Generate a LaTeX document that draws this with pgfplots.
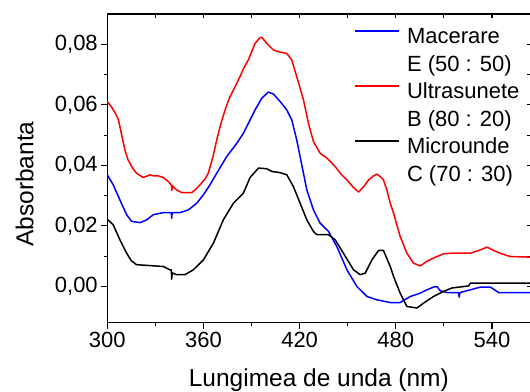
\documentclass[border=0pt]{standalone}
\usepackage{fontspec}
\setmainfont{Liberation Sans}
\usepackage{pgfplots}
\pgfplotsset{compat=1.18}
\definecolor{cblue}{RGB}{0,0,255}
\definecolor{cred}{RGB}{255,0,0}
\begin{document}
\begin{tikzpicture}
\pgfplotsset{
  common/.style={
    scale only axis, width=423.5bp, height=309bp,
    xmin=300, xmax=564, ymin=-0.012, ymax=0.09,
    scaled ticks=false,
    xtick={300,360,420,480,540}, minor x tick num=1,
    ytick={0,0.02,0.04,0.06,0.08}, minor y tick num=1,
    axis line style={line width=1.1bp},
    major tick style={line width=1.1bp, black},
    minor tick style={line width=1.1bp, black},
    major tick length=6bp, minor tick length=3.5bp,
  }
}
% top/right ticks (inside)
\begin{axis}[common,
  axis x line*=top, axis y line*=right, tick align=inside,
  xticklabels={}, yticklabels={},
  major tick length=4bp, minor tick length=4bp]
\end{axis}
\begin{axis}[common,
  axis x line*=bottom, axis y line*=left, tick align=outside,
  /pgf/number format/assume math mode=true,
  yticklabel style={/pgf/number format/use comma, /pgf/number format/fixed,
    /pgf/number format/fixed zerofill, /pgf/number format/precision=2},
  tick label style={font=\fontsize{22bp}{26bp}\selectfont},
  xlabel={Lungimea de unda (nm)}, ylabel={Absorbanta},
  label style={font=\fontsize{24.5bp}{28bp}\selectfont},
  xlabel style={at={(axis description cs:0.5,0)}, anchor=base, yshift=-63.7bp},
  ylabel style={at={(axis description cs:-0.1747,0.449)}, anchor=base},
  legend style={at={(axis description cs:0.5825,1)}, anchor=north west, yshift=-13bp,
    draw=none, fill=none, inner sep=0pt, row sep=6.5bp, column sep=7bp,
    line width=1.5bp,
    font=\fontsize{22bp}{26bp}\selectfont,
    nodes={inner sep=0pt, text height=16bp, text depth=5bp}},
  legend cell align=left,
  legend image code/.code={\draw[#1] (0bp,7bp) -- (44bp,7bp);},
  legend image post style={line width=1.5bp},
  every axis plot/.append style={line width=1.5bp, line join=round},
]
\addplot[cblue, forget plot] coordinates {
(300,0.0369) (303.7,0.0336) (307.9,0.0286) (312.1,0.0237) (315.2,0.0215) (320.4,0.0211)
(324.6,0.022) (328.7,0.0237) (335,0.0244) (340,0.0244) (340.2,0.0225) (340.5,0.0244)
(345.4,0.0244) (350.6,0.0253) (355.8,0.0275) (360,0.0303) (364.1,0.0336) (368.3,0.0374)
(374.5,0.0429) (380.8,0.0473) (384.9,0.0506) (387,0.0528) (389.1,0.055) (392.2,0.0583)
(396.4,0.0622) (400.5,0.0642) (403.6,0.0636) (407.8,0.0611) (412,0.0583) (415.1,0.055)
(418.2,0.0484) (420.7,0.0418) (424.5,0.0319) (428.6,0.0253) (432.8,0.0209) (438,0.0182)
(443.2,0.0132) (449.5,0.0055) (455.7,0.0) (462,-0.0033) (468.2,-0.0044) (476.5,-0.0053)
(482.7,-0.0053) (489,-0.0033) (495.2,-0.0022) (499.4,-0.0011) (503.5,-0.0002) (505.6,0.0)
(507.7,-0.0014) (511.9,-0.002) (519,-0.002) (519.5,-0.0035) (520,-0.002) (526.5,-0.0011)
(532.7,-0.0002) (539,-0.0002) (544.1,-0.002) (564,-0.002)
};
\addplot[cred, forget plot] coordinates {
(300,0.0611) (303,0.059) (305,0.0573) (307,0.055) (309,0.050) (311,0.0451) (313,0.0418)
(316,0.039) (318.3,0.0374) (322.5,0.036) (325,0.0365) (326.7,0.0369) (329,0.0365)
(332,0.0365) (335,0.036) (338,0.0347) (340,0.0335) (340.3,0.0317) (340.6,0.0333)
(343,0.032) (346.5,0.031) (352.7,0.031) (355,0.032) (357.9,0.0336) (361,0.0355)
(363,0.0374) (366,0.043) (368.3,0.0484) (371,0.054) (373.5,0.0583) (376,0.062)
(378.7,0.0649) (382.8,0.0693) (385,0.072) (388,0.0748) (392.2,0.0803) (395.3,0.0822)
(396.4,0.0823) (399.5,0.0803) (403.6,0.0781) (407.8,0.0774) (412,0.077) (415.1,0.0748)
(418.2,0.0693) (422.4,0.0616) (425.5,0.0539) (428.6,0.0479) (432.8,0.044) (437,0.0424)
(442.2,0.0396) (446,0.037) (449.5,0.0352) (453,0.033) (456.7,0.0312) (460,0.033)
(463,0.0352) (466,0.0365) (468.2,0.0371) (470.3,0.0363) (472.3,0.0352) (474.4,0.0319)
(476.5,0.0275) (478.6,0.0242) (482.7,0.0165) (486.9,0.011) (491,0.0077) (495.2,0.0068)
(499.4,0.0083) (503.5,0.0094) (509.8,0.0108) (515,0.011) (526.5,0.011) (532.7,0.0121)
(536.9,0.013) (541,0.0119) (546,0.0108) (551.4,0.0099) (564,0.0097)
};
\addplot[black, forget plot] coordinates {
(300,0.0222) (303.7,0.0204) (307.9,0.0154) (312.1,0.011) (315,0.0085) (318.3,0.0072)
(335,0.0066) (339.1,0.0055) (340,0.0055) (340.2,0.0024) (340.5,0.0045) (343.3,0.0039)
(348.5,0.0039) (353.7,0.0055) (360,0.0088) (366.2,0.0143) (372.4,0.022) (378.7,0.0275)
(384.9,0.0308) (389.1,0.036) (394.3,0.0391) (399.5,0.0389) (402.6,0.038) (407.8,0.0376)
(412,0.0369) (416.1,0.033) (420.3,0.0275) (424.5,0.022) (428.6,0.0182) (430.7,0.0171)
(438,0.0171) (442.2,0.0154) (447.3,0.011) (453.6,0.0055) (457.8,0.0039) (460.9,0.0044)
(465.1,0.0088) (469.2,0.0119) (472.3,0.0119) (473.4,0.0105) (476.5,0.0066) (478.6,0.0033)
(482.7,-0.0022) (486.9,-0.0066) (493.2,-0.0071) (497.3,-0.0055) (503.5,-0.0033)
(509.8,-0.0016) (515,-0.0005) (525.4,0.0002) (526.5,0.0011) (564,0.0011)
};
\addlegendimage{cblue}
\addlegendentry{Macerare}
\addlegendimage{empty legend}
\addlegendentry{E (50 : 50)}
\addlegendimage{cred}
\addlegendentry{Ultrasunete}
\addlegendimage{empty legend}
\addlegendentry{B (80 : 20)}
\addlegendimage{black}
\addlegendentry{Microunde}
\addlegendimage{empty legend}
\addlegendentry{C (70 : 30)}
\end{axis}
\pgfresetboundingbox
\path[use as bounding box] (-107.3bp,-69bp) rectangle (423bp,323bp);
\end{tikzpicture}
\end{document}
